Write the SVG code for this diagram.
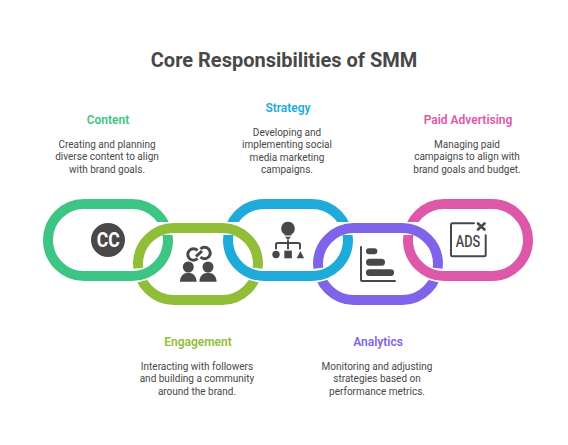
<svg xmlns="http://www.w3.org/2000/svg" width="568" height="445" viewBox="0 0 568 445">
<style>
text{font-family:Roboto,"Liberation Sans",sans-serif;text-anchor:middle}
.title{font-size:20px;font-weight:700;fill:#484848}
.head{font-size:12px;font-weight:600}
.body{font-size:10px;fill:#484848}
.ring{fill:none;stroke-width:10}
.ico{fill:#484848}
.lin{fill:none;stroke:#484848;stroke-width:2;stroke-linecap:round;stroke-linejoin:round}
.up{clip-path:url(#upClip)}
.lo{clip-path:url(#loClip)}
</style>
<defs>
<clipPath id="upClip"><path clip-rule="evenodd" d="M0 0H568V445H0Z M150 222H176V235H150Z M220 222H246V235H220Z M330 222H356V235H330Z M400 222H426V235H400Z"/></clipPath>
<clipPath id="loClip"><path clip-rule="evenodd" d="M0 0H568V445H0Z M128 269.6L150 266.8V279.2L128 284.8Z M268 269.6L246 266.8V279.2L268 284.8Z M308 269.6L330 266.8V279.2L308 284.8Z M448 269.6L426 266.8V279.2L448 284.8Z"/></clipPath>
</defs>
<text class="title" x="284" y="67">Core Responsibilities of SMM</text>
<g id="connectors"></g>
<g id="node-content">
<rect class="ring up" x="48" y="204" width="120" height="72" rx="36" stroke="#3CC583"/>
<circle class="ico" cx="108" cy="240" r="17"/>
<text x="108.300" y="247.300" font-size="20" font-weight="700" fill="#fff" textLength="23" lengthAdjust="spacingAndGlyphs">CC</text>
<text class="head" x="108" y="124" fill="#3CC583">Content</text>
<text class="body" x="107" y="148">Creating and planning</text>
<text class="body" x="107" y="160.300">diverse content to align</text>
<text class="body" x="107" y="172.600">with brand goals.</text>
</g>
<g id="node-engagement">
<rect class="ring lo" x="138" y="228" width="120" height="72" rx="36" stroke="#92BD39"/>
<path class="lin" style="stroke-width:3;stroke-linecap:butt" d="M197.500 250.500A5.700 5.700 0 1 0 197.500 258.500M200.500 249A5.700 5.700 0 1 1 200.500 257M196 256.500L202 251"/>
<circle class="ico" cx="188.300" cy="267" r="5.500"/>
<circle class="ico" cx="208" cy="267" r="5.500"/>
<path class="ico" d="M180 281.700c0-5 3-9 8.300-9s8.300 4 8.300 9Z M199.400 281.700c0-5 3-9 8.600-9s8.600 4 8.600 9Z"/>
<text class="head" x="198" y="345.700" fill="#92BD39">Engagement</text>
<text class="body" x="197" y="370">Interacting with followers</text>
<text class="body" x="197" y="382.300">and building a community</text>
<text class="body" x="197" y="394.600">around the brand.</text>
</g>
<g id="node-strategy">
<rect class="ring up" x="228" y="204" width="120" height="72" rx="36" stroke="#1EABDA"/>
<path class="ico" d="M288 221.700a6.800 6.800 0 0 1 3.500 12.600v1.200h-7v-1.200a6.800 6.800 0 0 1 3.500-12.600Z M285 236.800h6l-3 3.500Z"/>
<path class="lin" d="M276 248.500v-4a1.500 1.500 0 0 1 1.500-1.500h21a1.500 1.500 0 0 1 1.500 1.500v4M288 241v7.500"/>
<circle class="ico" cx="276" cy="254.500" r="3.700"/>
<rect class="ico" x="284.300" y="250.700" width="7.600" height="7.600"/>
<path class="ico" d="M296.700 258.300l3.700-7.300 3.700 7.300Z"/>
<text class="head" x="288" y="112.300" fill="#1EABDA">Strategy</text>
<text class="body" x="287" y="136">Developing and</text>
<text class="body" x="287" y="148.300">implementing social</text>
<text class="body" x="287" y="160.500">media marketing</text>
<text class="body" x="287" y="172.800">campaigns.</text>
</g>
<g id="node-analytics">
<rect class="ring lo" x="318" y="228" width="120" height="72" rx="36" stroke="#7F63E8"/>
<path class="lin" d="M361 247v33a1 1 0 0 0 1 1h33"/>
<rect class="ico" x="366" y="248.300" width="11.300" height="6" rx="3"/>
<rect class="ico" x="366" y="258.700" width="19" height="7" rx="3.500"/>
<rect class="ico" x="366" y="269.300" width="28" height="6.700" rx="3.300"/>
<text class="head" x="378" y="345.700" fill="#7F63E8">Analytics</text>
<text class="body" x="377" y="370">Monitoring and adjusting</text>
<text class="body" x="377" y="382.300">strategies based on</text>
<text class="body" x="377" y="394.600">performance metrics.</text>
</g>
<g id="node-paid-advertising">
<rect class="ring up" x="408" y="204" width="120" height="72" rx="36" stroke="#DD58A8"/>
<path class="lin" d="M474 223.300h-21.500a1.500 1.500 0 0 0-1.500 1.500v30a1.500 1.500 0 0 0 1.500 1.500h31.700a1.500 1.500 0 0 0 1.500-1.500v-19.500"/>
<path class="lin" style="stroke-width:2.600" d="M478 223.500l6.500 6M484.500 223.500l-6.500 6"/>
<text x="468" y="247.300" font-size="16" font-weight="500" fill="#484848" textLength="24.500" lengthAdjust="spacingAndGlyphs">ADS</text>
<text class="head" x="468" y="124" fill="#DD58A8">Paid Advertising</text>
<text class="body" x="467" y="148">Managing paid</text>
<text class="body" x="467" y="160.300">campaigns to align with</text>
<text class="body" x="467" y="172.600">brand goals and budget.</text>
</g>
</svg>
